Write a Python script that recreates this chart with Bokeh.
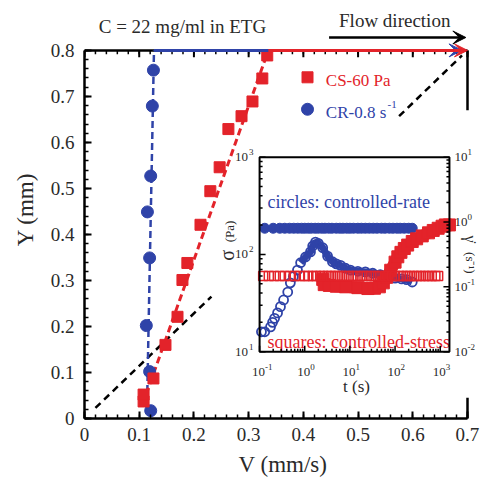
import math
from bokeh.plotting import figure
from bokeh.models import Range1d, FixedTicker, Arrow, VeeHead
from bokeh.embed import file_html
from bokeh.resources import INLINE
from bokeh.core.properties import value

FONT = "Liberation Serif"
RED = "#e3232a"
BLUE = "#2f43a8"
INK = "#2a2a2a"

# ---------------- main panel: velocity profiles ----------------
cs_v = [0.108, 0.108, 0.126, 0.148, 0.170, 0.179, 0.188, 0.212, 0.230, 0.247, 0.263, 0.287, 0.307, 0.325, 0.334]
cs_y = [0.037, 0.052, 0.087, 0.160, 0.221, 0.301, 0.338, 0.421, 0.494, 0.546, 0.629, 0.657, 0.689, 0.739, 0.789]
cs_fit_v = [0.106, 0.336]
cs_fit_y = [0.03, 0.80]

cr_v = [0.121, 0.119, 0.113, 0.119, 0.115, 0.121, 0.124, 0.126]
cr_y = [0.017, 0.102, 0.202, 0.349, 0.449, 0.527, 0.679, 0.757]
cr_fit_v = [0.114, 0.127]
cr_fit_y = [0.01, 0.80]

newton_lo_v = [0.020, 0.232]
newton_lo_y = [0.023, 0.265]
newton_hi_v = [0.575, 0.690]
newton_hi_y = [0.657, 0.789]

plate_y = 0.8
cr_plate_v = [0.127, 0.690]
cs_plate_v = [0.336, 0.700]

v_ticks = [0.0, 0.1, 0.2, 0.3, 0.4, 0.5, 0.6, 0.7]
v_labels = ["0", "0.1", "0.2", "0.3", "0.4", "0.5", "0.6", "0.7"]
y_ticks = [0.0, 0.1, 0.2, 0.3, 0.4, 0.5, 0.6, 0.7, 0.8]
y_labels = ["0", "0.1", "0.2", "0.3", "0.4", "0.5", "0.6", "0.7", "0.8"]
v_minor = [i / 50 for i in range(36)]
y_minor = [i / 50 for i in range(41)]

# ---------------- inset: start-up transients ----------------
# controlled rate: applied rate (right axis) and stress response (left axis)
cr_rate_value = 0.8
cr_rate_t = [0.13, 0.2, 0.28, 0.36, 0.46, 0.57, 0.7, 0.85, 1.0, 1.2, 1.4, 1.7, 2.0, 2.4, 2.8,
             3.4, 4.0, 5.0, 6.0, 7.0, 8.5, 10, 12, 15, 18, 22, 27, 33, 40, 50, 60, 75, 90,
             110, 130, 160, 200, 240]
cr_stress_t = [0.11, 0.13, 0.175, 0.194, 0.215, 0.25, 0.29, 0.34, 0.42, 0.48, 0.56, 0.69, 0.81,
               1.04, 1.34, 1.5, 1.73, 2.0, 2.5, 3.2, 4.1, 5.0, 6.2, 8.0, 10.3, 15, 22, 32, 47,
               70, 100, 140, 180, 240]
cr_stress = [16, 16, 18, 20, 22, 25, 29, 34, 41, 51, 59, 69, 82, 94, 106, 122, 134, 130, 117,
             96, 84, 80, 77, 72, 69, 67, 66, 64, 62, 59, 57, 56, 55, 52]

# controlled stress: applied stress (left axis) and rate response (right axis)
cs_stress_value = 60
cs_stress_t = [0.12, 0.16, 0.21, 0.28, 0.36, 0.47, 0.6, 0.78, 1.0, 1.2, 1.5, 1.8, 2.2, 2.6, 3.2,
               3.8, 4.6, 5.5, 6.6, 8.0, 9.5, 11.5, 14, 17, 20, 24, 29, 35, 42, 50, 60, 72, 86,
               100, 125, 150, 180, 215, 260, 310, 370, 450, 540, 650, 780, 900]
cs_rate_t = [2.5, 2.7, 3.5, 5, 8, 15, 25, 35, 45, 55, 65, 80, 100, 115, 135, 160, 190, 240, 300,
             400, 550, 700, 900, 1100, 1300, 1600]
cs_rate = [0.13, 0.108, 0.105, 0.102, 0.10, 0.097, 0.094, 0.095, 0.10, 0.115, 0.14, 0.18, 0.24,
           0.29, 0.34, 0.39, 0.44, 0.50, 0.55, 0.61, 0.68, 0.74, 0.80, 0.86, 0.90, 0.90]

T0, T1 = 0.1, 1600
S0, S1 = 10, 1000
G0, G1 = 0.01, 10
t_major = [0.1, 1, 10, 100, 1000]
t_exps = ["-1", "0", "1", "2", "3"]
s_major = [10, 100, 1000]
s_exps = ["1", "2", "3"]
g_major = [0.01, 0.1, 1, 10]
g_exps = ["-2", "-1", "0", "1"]

# ---------------- figure ----------------
W, H = 481, 479
BL, BB = 84, 60
V_MAX, Y_MAX = 0.7, 0.8
PXV = 547.14          # pixels per mm/s
PXY = 461.25          # pixels per mm
XR = (0.0, (W - BL) / PXV)
YR = (0.0, (H - BB) / PXY)

p = figure(width=W, height=H, x_range=Range1d(*XR), y_range=Range1d(*YR),
           output_backend="svg", toolbar_location=None,
           min_border_left=BL, min_border_right=0, min_border_top=0, min_border_bottom=BB,
           x_axis_label="V (mm/s)", y_axis_label="Y (mm)")
p.xgrid.visible = False
p.ygrid.visible = False
p.outline_line_color = None
p.background_fill_color = "white"
p.border_fill_color = "white"


def style_axis(ax):
    ax.axis_line_width = 2.5
    ax.axis_line_color = "black"
    ax.major_tick_in = 7
    ax.major_tick_out = 0
    ax.minor_tick_in = 4
    ax.minor_tick_out = 0
    ax.major_tick_line_width = 2
    ax.minor_tick_line_width = 1.5
    ax.major_tick_line_color = "black"
    ax.minor_tick_line_color = "black"
    ax.major_label_text_font = FONT
    ax.major_label_text_font_size = "19px"
    ax.major_label_text_color = INK
    ax.axis_label_text_font = FONT
    ax.axis_label_text_font_size = "23px"
    ax.axis_label_text_font_style = "normal"
    ax.axis_label_text_color = INK


xa = p.xaxis[0]
ya = p.yaxis[0]
xa.ticker = FixedTicker(ticks=v_ticks, minor_ticks=v_minor)
ya.ticker = FixedTicker(ticks=y_ticks, minor_ticks=y_minor)
xa.major_label_overrides = dict(zip(v_ticks, v_labels))
ya.major_label_overrides = dict(zip(y_ticks, y_labels))
xa.bounds = (0.0, V_MAX)
ya.bounds = (0.0, Y_MAX)
style_axis(xa)
style_axis(ya)
xa.major_label_standoff = 9
xa.axis_label_standoff = 8
ya.major_label_standoff = 10
ya.axis_label_standoff = 10

# top border with inward ticks
p.segment(x0=[0.0], y0=[Y_MAX], x1=[V_MAX], y1=[Y_MAX], line_color="black", line_width=2.5)
p.segment(x0=v_ticks, y0=[Y_MAX] * len(v_ticks), x1=v_ticks, y1=[Y_MAX - 7 / PXY] * len(v_ticks),
          line_color="black", line_width=2)
p.segment(x0=v_minor, y0=[Y_MAX] * len(v_minor), x1=v_minor, y1=[Y_MAX - 4 / PXY] * len(v_minor),
          line_color="black", line_width=1.5)
# partial right border
p.segment(x0=[V_MAX, V_MAX], y0=[Y_MAX, 0.045], x1=[V_MAX, V_MAX], y1=[0.67, 0.0],
          line_color="black", line_width=2.5)

# linear (Newtonian) reference profile
p.line(newton_lo_v, newton_lo_y, line_color="black", line_width=2.5, line_dash="7 5")
p.line(newton_hi_v, newton_hi_y, line_color="black", line_width=2.5, line_dash="7 5")

# profile fits and measured points
p.line(cr_fit_v, cr_fit_y, line_color=BLUE, line_width=2.5, line_dash="7 4")
p.line(cs_fit_v, cs_fit_y, line_color=RED, line_width=3, line_dash="7 4")
p.scatter(cr_v, cr_y, marker="circle", size=12, color=BLUE)
p.scatter(cs_v, cs_y, marker="square", size=11, color=RED)

# moving plate velocity
p.add_layout(Arrow(end=VeeHead(size=13, fill_color=BLUE, line_color=BLUE),
                   x_start=cr_plate_v[0], y_start=plate_y, x_end=cr_plate_v[1], y_end=plate_y,
                   line_color=BLUE, line_width=3))
p.add_layout(Arrow(end=VeeHead(size=13, fill_color=RED, line_color=RED),
                   x_start=cs_plate_v[0], y_start=plate_y, x_end=cs_plate_v[1], y_end=plate_y,
                   line_color=RED, line_width=3))


def txt(x, y, text, size, color=INK, align="left", baseline="middle", angle=0.0):
    p.text([x], [y], text=[text], text_font=value(FONT), text_font_size=f"{size}px",
           text_color=color, text_align=align, text_baseline=baseline, angle=angle)


# title and flow direction
txt(0.026, 0.851, "C = 22 mg/ml in ETG", 19)
txt(0.567, 0.865, "Flow direction", 19, align="center")
p.add_layout(Arrow(end=VeeHead(size=13, fill_color="black", line_color="black"),
                   x_start=0.447, y_start=0.828, x_end=0.697, y_end=0.828,
                   line_color="black", line_width=2.5))

# legend
p.scatter([0.4076], [0.7415], marker="square", size=11, color=RED)
p.scatter([0.4076], [0.672], marker="circle", size=12, color=BLUE)
txt(0.441, 0.735, "CS-60 Pa", 17, RED)
txt(0.441, 0.666, "CR-0.8 s", 17, BLUE)
txt(0.554, 0.683, "-1", 11, BLUE)

# ---------------- inset (log-log, drawn in decades) ----------------
INSET_V = (0.32, 0.667)
INSET_Y = (0.1453, 0.568)
lt0, lt1 = math.log10(T0), math.log10(T1)
ls0, ls1 = math.log10(S0), math.log10(S1)
lg0, lg1 = math.log10(G0), math.log10(G1)


def logs(vals):
    return [math.log10(v) for v in vals]


sig = p.subplot(x_source=Range1d(lt0, lt1), y_source=Range1d(ls0, ls1),
                x_target=Range1d(*INSET_V), y_target=Range1d(*INSET_Y))
rate = p.subplot(x_source=Range1d(lt0, lt1), y_source=Range1d(lg0, lg1),
                 x_target=Range1d(*INSET_V), y_target=Range1d(*INSET_Y))

sig.quad(left=[lt0], right=[lt1], bottom=[ls0], top=[ls1], fill_color="white", line_color=None)

i_dense = next(i for i, t in enumerate(cr_stress_t) if t >= 0.8)
sig.line(logs(cr_stress_t[i_dense:]), logs(cr_stress[i_dense:]), line_color=BLUE, line_width=7)
sig.scatter(logs(cr_stress_t), logs(cr_stress), marker="circle", size=9, fill_color=None,
            line_color=BLUE, line_width=1.8)

j_dense = next(i for i, t in enumerate(cr_rate_t) if t >= 1.0)
cr_rate = [cr_rate_value] * len(cr_rate_t)
rate.line(logs(cr_rate_t[j_dense:]), logs(cr_rate[j_dense:]), line_color=BLUE, line_width=9)
rate.scatter(logs(cr_rate_t), logs(cr_rate), marker="circle", size=10, color=BLUE)

rate.line(logs(cs_rate_t), logs(cs_rate), line_color=RED, line_width=12)
rate.scatter(logs(cs_rate_t), logs(cs_rate), marker="square", size=12, color=RED)

cs_stress = [cs_stress_value] * len(cs_stress_t)
sig.scatter(logs(cs_stress_t), logs(cs_stress), marker="square", size=9, fill_color=None,
            line_color=RED, line_width=1.5)

sig.text([math.log10(0.15)], [math.log10(345)], text=["circles: controlled-rate"],
         text_font=value(FONT), text_font_size="18px", text_color=BLUE, text_baseline="middle")
sig.text([math.log10(0.15)], [math.log10(12.6)], text=["squares: controlled-stress"],
         text_font=value(FONT), text_font_size="18px", text_color=RED, text_baseline="middle")

sig.quad(left=[lt0], right=[lt1], bottom=[ls0], top=[ls1], fill_color=None,
         line_color="black", line_width=2)

# inset ticks (inward)
inset_w = (INSET_V[1] - INSET_V[0]) * PXV
inset_h = (INSET_Y[1] - INSET_Y[0]) * PXY
kt = (lt1 - lt0) / inset_w
ks = (ls1 - ls0) / inset_h
kg = (lg1 - lg0) / inset_h


def minors(lo, hi):
    out = []
    e = math.floor(math.log10(lo))
    while 10 ** e < hi:
        for m in range(2, 10):
            v = m * 10 ** e
            if lo < v < hi:
                out.append(v)
        e += 1
    return out


for ticks, L in [(t_major, 6), (minors(T0, T1), 3)]:
    lx = logs(ticks)
    sig.segment(x0=lx, y0=[ls0] * len(lx), x1=lx, y1=[ls0 + ks * L] * len(lx),
                line_color="black", line_width=1.5)
for ticks, L in [(s_major, 6), (minors(S0, S1), 3)]:
    ly = logs(ticks)
    sig.segment(x0=[lt0] * len(ly), y0=ly, x1=[lt0 + kt * L] * len(ly), y1=ly,
                line_color="black", line_width=1.5)
for ticks, L in [(g_major, 6), (minors(G0, G1), 3)]:
    ly = logs(ticks)
    rate.segment(x0=[lt1] * len(ly), y0=ly, x1=[lt1 - kt * L] * len(ly), y1=ly,
                 line_color="black", line_width=1.5)


def inset_v(t):
    return INSET_V[0] + (math.log10(t) - lt0) / (lt1 - lt0) * (INSET_V[1] - INSET_V[0])


def inset_ys(s):
    return INSET_Y[0] + (math.log10(s) - ls0) / (ls1 - ls0) * (INSET_Y[1] - INSET_Y[0])


def inset_yg(g):
    return INSET_Y[0] + (math.log10(g) - lg0) / (lg1 - lg0) * (INSET_Y[1] - INSET_Y[0])


for t, e in zip(t_major, t_exps):
    txt(inset_v(t) - 1 / PXV, INSET_Y[0] - 20 / PXY, "10", 13, align="center")
    txt(inset_v(t) + 5.5 / PXV, INSET_Y[0] - 15 / PXY, e, 9)
for s, e in zip(s_major, s_exps):
    txt(INSET_V[0] - 11.5 / PXV, inset_ys(s), "10", 13, align="right")
    txt(INSET_V[0] - 6 / PXV, inset_ys(s) + 5 / PXY, e, 9, align="right")
for g, e in zip(g_major, g_exps):
    txt(INSET_V[1] + 5 / PXV, inset_yg(g), "10", 13)
    txt(INSET_V[1] + 18 / PXV, inset_yg(g) + 5 / PXY, e, 9)

txt((INSET_V[0] + INSET_V[1]) / 2 + 2 / PXV, INSET_Y[0] - 35 / PXY, "t (s)", 17, align="center")
txt(INSET_V[0] - 33 / PXV, inset_ys(100) - 1 / PXY, "\u03c3", 20, align="center", angle=math.pi / 2)
txt(INSET_V[0] - 30 / PXV, inset_ys(100) + 23 / PXY, "(Pa)", 13, align="center", angle=math.pi / 2)
txt(INSET_V[1] + 21 / PXV, inset_yg(1) - 17 / PXY, "\u03b3\u0307", 16, align="center", angle=-math.pi / 2)
txt(INSET_V[1] + 21 / PXV, inset_yg(1) - 41 / PXY, "(s\u207b\u00b9)", 13, align="center", angle=-math.pi / 2)

open("out.html", "w").write(file_html(p, INLINE))
